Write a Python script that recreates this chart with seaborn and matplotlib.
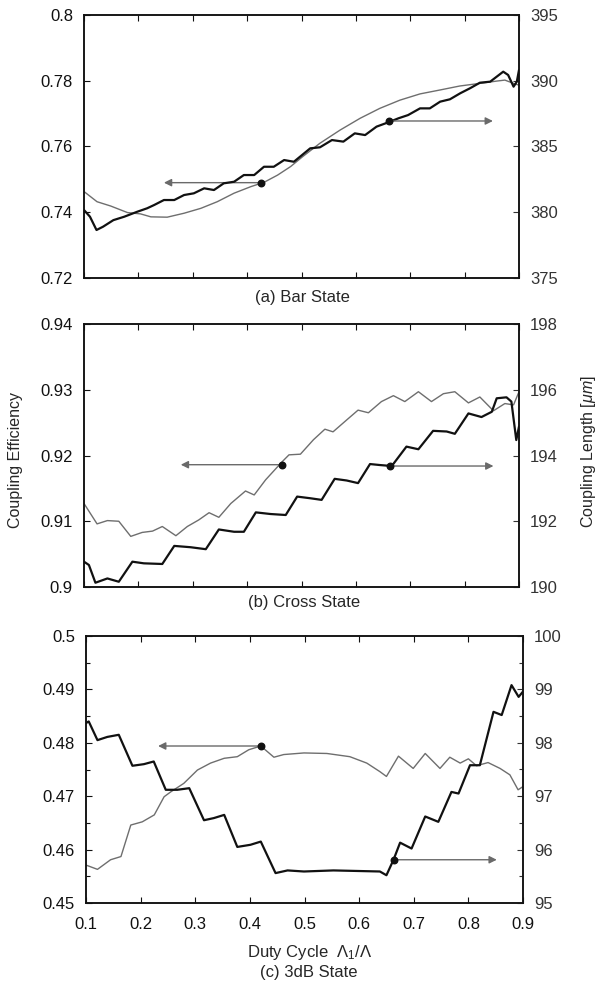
import matplotlib
matplotlib.use('Agg')
import matplotlib.pyplot as plt
from matplotlib.ticker import MultipleLocator, FuncFormatter
import seaborn as sns

# ---- values ----
# (a) Bar state
duty_a_eff = [0.100, 0.124, 0.149, 0.180, 0.204, 0.223, 0.253, 0.284, 0.315, 0.345, 0.376,
              0.407, 0.431, 0.456, 0.480, 0.502, 0.534, 0.571, 0.608, 0.644, 0.681, 0.718,
              0.755, 0.791, 0.828, 0.859, 0.874, 0.890, 0.899]
eff_a = [0.7463, 0.7432, 0.7419, 0.7399, 0.7395, 0.7386, 0.7385, 0.7397, 0.7412, 0.7432, 0.7458,
         0.7478, 0.7491, 0.7513, 0.7539, 0.7569, 0.7610, 0.7650, 0.7686, 0.7716, 0.7741, 0.7760,
         0.7772, 0.7784, 0.7792, 0.7799, 0.7802, 0.7792, 0.7787]
duty_a_len = [0.100, 0.111, 0.123, 0.135, 0.154, 0.174, 0.198, 0.216, 0.229, 0.247, 0.266, 0.284,
              0.302, 0.321, 0.339, 0.357, 0.376, 0.394, 0.413, 0.431, 0.449, 0.468, 0.486, 0.501,
              0.516, 0.534, 0.556, 0.577, 0.598, 0.617, 0.638, 0.663, 0.678, 0.696, 0.718, 0.736,
              0.755, 0.773, 0.792, 0.810, 0.828, 0.847, 0.859, 0.871, 0.880, 0.890, 0.896, 0.900]
len_a = [380.17, 379.66, 378.65, 378.90, 379.40, 379.66, 380.04, 380.30, 380.55, 380.93, 380.93, 381.31,
         381.44, 381.82, 381.69, 382.20, 382.32, 382.83, 382.83, 383.46, 383.46, 383.97, 383.84, 384.35,
         384.86, 384.94, 385.49, 385.37, 386.00, 385.87, 386.51, 386.89, 387.14, 387.39, 387.90, 387.90,
         388.41, 388.59, 389.05, 389.43, 389.85, 389.93, 390.31, 390.69, 390.44, 389.55, 389.93, 390.82]

# (b) Cross state
duty_b_eff = [0.100, 0.124, 0.143, 0.164, 0.186, 0.207, 0.226, 0.244, 0.269, 0.290, 0.311, 0.330,
              0.348, 0.370, 0.397, 0.413, 0.434, 0.465, 0.477, 0.498, 0.522, 0.543, 0.558, 0.583,
              0.604, 0.623, 0.647, 0.669, 0.690, 0.715, 0.739, 0.761, 0.782, 0.807, 0.828, 0.853,
              0.874, 0.890, 0.899]
eff_b = [0.9127, 0.9096, 0.9101, 0.9100, 0.9077, 0.9083, 0.9085, 0.9092, 0.9078, 0.9092, 0.9102, 0.9113,
         0.9106, 0.9127, 0.9146, 0.9140, 0.9163, 0.9191, 0.9201, 0.9202, 0.9224, 0.9240, 0.9236, 0.9254,
         0.9269, 0.9265, 0.9282, 0.9291, 0.9282, 0.9297, 0.9282, 0.9294, 0.9297, 0.9280, 0.9289, 0.9268,
         0.9279, 0.9277, 0.9295]
duty_b_len = [0.100, 0.109, 0.121, 0.143, 0.164, 0.189, 0.210, 0.244, 0.266, 0.296, 0.324, 0.348,
              0.376, 0.394, 0.416, 0.443, 0.471, 0.492, 0.516, 0.537, 0.561, 0.583, 0.604, 0.626,
              0.644, 0.666, 0.693, 0.715, 0.742, 0.767, 0.782, 0.807, 0.831, 0.850, 0.859, 0.877,
              0.886, 0.895, 0.900]
len_b = [190.77, 190.67, 190.13, 190.26, 190.16, 190.77, 190.72, 190.70, 191.25, 191.21, 191.15, 191.75,
         191.68, 191.68, 192.27, 192.22, 192.19, 192.75, 192.70, 192.65, 193.29, 193.24, 193.16, 193.74,
         193.71, 193.68, 194.27, 194.19, 194.75, 194.73, 194.66, 195.28, 195.17, 195.33, 195.74, 195.77,
         195.64, 194.47, 194.88]

# (c) 3dB state
duty_c_eff = [0.100, 0.121, 0.145, 0.164, 0.182, 0.203, 0.225, 0.243, 0.255, 0.279, 0.304, 0.328,
              0.353, 0.377, 0.398, 0.420, 0.444, 0.462, 0.499, 0.541, 0.583, 0.614, 0.638, 0.650,
              0.672, 0.699, 0.721, 0.748, 0.766, 0.785, 0.800, 0.815, 0.836, 0.858, 0.876, 0.891, 0.900]
eff_c = [0.4571, 0.4563, 0.4581, 0.4587, 0.4646, 0.4652, 0.4665, 0.4699, 0.4708, 0.4724, 0.4749, 0.4762,
         0.4771, 0.4774, 0.4787, 0.4794, 0.4773, 0.4778, 0.4781, 0.4780, 0.4774, 0.4762, 0.4746, 0.4737,
         0.4775, 0.4752, 0.4780, 0.4752, 0.4773, 0.4762, 0.4770, 0.4757, 0.4763, 0.4752, 0.4740, 0.4712, 0.4718]
duty_c_len = [0.100, 0.105, 0.121, 0.139, 0.160, 0.185, 0.206, 0.224, 0.246, 0.267, 0.289, 0.316,
              0.334, 0.353, 0.377, 0.401, 0.420, 0.447, 0.469, 0.499, 0.553, 0.638, 0.650, 0.663,
              0.675, 0.696, 0.721, 0.745, 0.769, 0.782, 0.803, 0.821, 0.846, 0.861, 0.879, 0.892, 0.900]
len_c = [98.37, 98.40, 98.05, 98.11, 98.15, 97.57, 97.60, 97.65, 97.12, 97.12, 97.15, 96.55,
         96.59, 96.65, 96.05, 96.09, 96.15, 95.56, 95.61, 95.59, 95.61, 95.59, 95.52, 95.81,
         96.13, 96.02, 96.62, 96.52, 97.08, 97.05, 97.58, 97.58, 98.58, 98.52, 99.08, 98.86, 98.96]

# arrows: (x start, x end, y) -- left arrow on efficiency axis, right arrow on length axis
arrow_eff = {'a': (0.426, 0.247, 0.7490), 'b': (0.465, 0.278, 0.9186), 'c': (0.420, 0.232, 0.4794)}
arrow_len = {'a': (0.661, 0.852, 386.94), 'b': (0.663, 0.853, 193.68), 'c': (0.663, 0.852, 95.81)}

panel_names = ['(a) Bar State', '(b) Cross State', '(c) 3dB State']
eff_limits = {'a': (0.72, 0.80, 0.02, None), 'b': (0.90, 0.94, 0.01, None), 'c': (0.45, 0.50, 0.01, 0.005)}
len_limits = {'a': (375, 395, 5, None), 'b': (190, 198, 2, None), 'c': (95, 100, 1, 0.5)}
duty_ticks = [0.1, 0.2, 0.3, 0.4, 0.5, 0.6, 0.7, 0.8, 0.9]

sns.set_style('ticks')
plt.rcParams['font.family'] = ['Liberation Sans', 'DejaVu Sans']
plt.rcParams['mathtext.fontset'] = 'custom'
plt.rcParams['mathtext.rm'] = 'Liberation Sans'
plt.rcParams['mathtext.it'] = 'Liberation Sans:italic'

fig = plt.figure(figsize=(5.97, 9.82), dpi=100)
W, H = 597.0, 982.0
# axes boxes in pixels: left, top, right, bottom
boxes = {'a': (84, 15, 519, 278), 'b': (84, 324, 519, 587), 'c': (86, 636, 523, 903)}

data = {
    'a': (duty_a_eff, eff_a, duty_a_len, len_a),
    'b': (duty_b_eff, eff_b, duty_b_len, len_b),
    'c': (duty_c_eff, eff_c, duty_c_len, len_c),
}

fmt = FuncFormatter(lambda v, p: '{:g}'.format(round(v, 4)))
thin_col = '#6e6e6e'
arrow_col = '#6a6a6a'

for key in ['a', 'b', 'c']:
    l, t, r, b = boxes[key]
    ax = fig.add_axes([l / W, 1 - b / H, (r - l) / W, (b - t) / H])
    ax2 = ax.twinx()
    dx_e, e, dx_l, ln = data[key]

    sns.lineplot(x=dx_e, y=e, ax=ax, color=thin_col, linewidth=1.0, estimator=None, sort=False,
                 solid_joinstyle='round')
    sns.lineplot(x=dx_l, y=ln, ax=ax2, color='#111111', linewidth=1.6, estimator=None, sort=False,
                 solid_joinstyle='round')

    # arrows pointing to the relevant axis
    xs, xe, ye = arrow_eff[key]
    ax.annotate('', xy=(xe, ye), xytext=(xs, ye),
                arrowprops=dict(arrowstyle='-|>', color=arrow_col, lw=1.0, mutation_scale=11,
                                shrinkA=0, shrinkB=0))
    ax.scatter([xs], [ye], s=22, color='#111111', zorder=5)
    xs, xe, yl = arrow_len[key]
    ax2.annotate('', xy=(xe, yl), xytext=(xs, yl),
                 arrowprops=dict(arrowstyle='-|>', color=arrow_col, lw=1.0, mutation_scale=11,
                                 shrinkA=0, shrinkB=0))
    ax2.scatter([xs], [yl], s=22, color='#111111', zorder=5)

    lo, hi, step, minor = eff_limits[key]
    ax.set_xlim(0.1, 0.9)
    ax.set_ylim(lo, hi)
    ax.yaxis.set_major_locator(MultipleLocator(step))
    if minor:
        ax.yaxis.set_minor_locator(MultipleLocator(minor))
    ax.yaxis.set_major_formatter(fmt)
    ax.set_xticks(duty_ticks)
    ax.xaxis.set_major_formatter(fmt)

    lo, hi, step, minor = len_limits[key]
    ax2.set_ylim(lo, hi)
    ax2.yaxis.set_major_locator(MultipleLocator(step))
    if minor:
        ax2.yaxis.set_minor_locator(MultipleLocator(minor))
    ax2.yaxis.set_major_formatter(fmt)

    for a in (ax, ax2):
        a.set_xlabel('')
        a.set_ylabel('')
        for s in a.spines.values():
            s.set_visible(True)
            s.set_color('#111111')
            s.set_linewidth(1.1)
    ax.tick_params(axis='both', which='both', direction='in', top=True, length=4, width=0.8,
                   labelsize=12, pad=8, colors='#111111')
    ax.tick_params(axis='y', which='minor', length=3)
    ax.tick_params(axis='x', labelbottom=(key == 'c'), pad=10)
    ax2.tick_params(axis='y', which='both', direction='in', length=4, width=0.8,
                    labelsize=12, pad=8, colors='#333333')
    ax2.tick_params(axis='y', which='minor', length=3)

# panel captions and shared axis labels
fig.text(302 / W, 1 - 297 / H, panel_names[0], ha='center', va='center', fontsize=12)
fig.text(304 / W, 1 - 603 / H, panel_names[1], ha='center', va='center', fontsize=12)
fig.text(310 / W, 1 - 952 / H, r'Duty Cycle  $\Lambda_1/\Lambda$', ha='center', va='center', fontsize=12)
fig.text(309 / W, 1 - 972 / H, panel_names[2], ha='center', va='center', fontsize=12)
fig.text(16 / W, 1 - 460 / H, 'Coupling Efficiency', rotation=90, ha='center', va='center', fontsize=11.5)
fig.text(588 / W, 1 - 452 / H, r'Coupling Length [$\mathit{\mu m}$]', rotation=90,
         ha='center', va='center', fontsize=11.5)

fig.savefig('out.png', dpi=100)
